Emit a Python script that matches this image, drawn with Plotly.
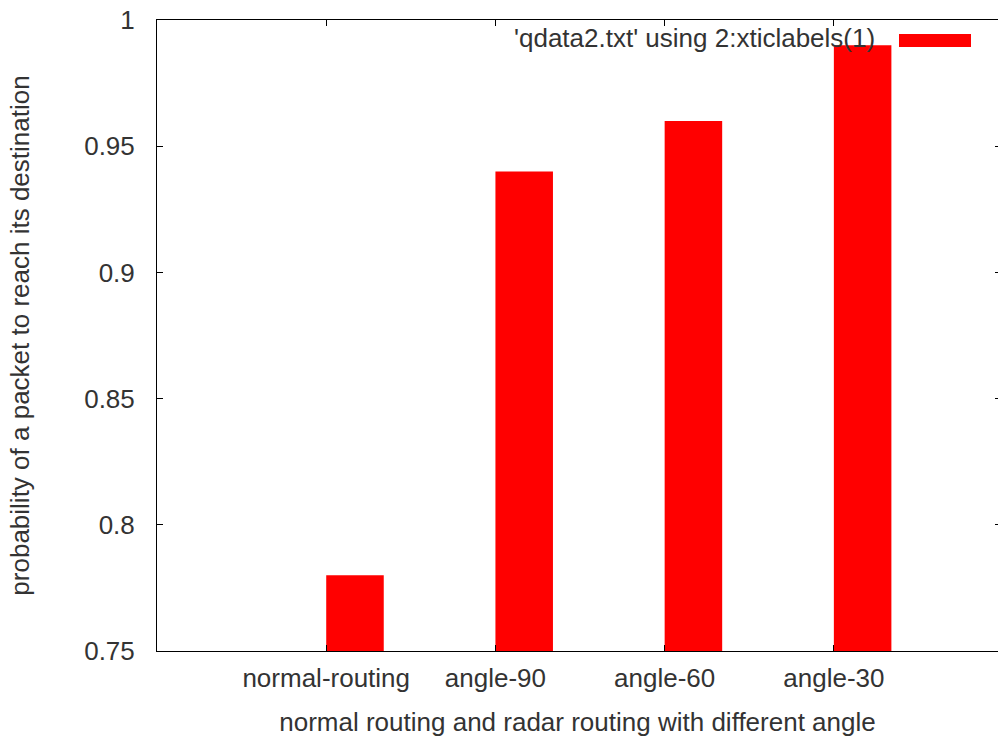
import plotly.graph_objects as go

categories = ["normal-routing", "angle-90", "angle-60", "angle-30"]
values = [0.78, 0.94, 0.96, 0.99]
y_ticks = [0.75, 0.8, 0.85, 0.9, 0.95, 1.0]
y_tick_labels = ["0.75", "0.8", "0.85", "0.9", "0.95", "1"]
legend_label = "'qdata2.txt' using 2:xticlabels(1)"
x_title = "normal routing and radar routing with different angle"
y_title = "probability of a packet to reach its destination"

FONT = "Liberation Sans, Arial, sans-serif"
TXT = "#333333"
FS = 26

W, H = 998, 740
ML, MT, MB = 157, 20, 89
PW = W - ML
PH = H - MT - MB

def px_x(x):
    return (x - ML) / PW

def px_y(y):
    return 1 - (y - MT) / PH

fig = go.Figure()
fig.add_trace(go.Bar(
    x=categories, y=values, base=0,
    marker=dict(color="#ff0000", line=dict(width=0)),
    width=0.34, offset=0.0, showlegend=False,
))
fig.add_trace(go.Scatter(x=[categories[0]], y=[values[0]], yaxis="y2",
                         mode="markers", marker=dict(opacity=0), showlegend=False,
                         hoverinfo="skip"))

fig.update_layout(
    width=W, height=H,
    margin=dict(l=ML, r=0, t=MT, b=MB, autoexpand=False),
    paper_bgcolor="white", plot_bgcolor="white",
    font=dict(family=FONT, size=FS, color=TXT),
    xaxis=dict(
        type="category", categoryorder="array", categoryarray=categories,
        range=[-1, 3.97], automargin=False,
        showline=True, linecolor="#000000", linewidth=1, mirror="ticks",
        ticks="inside", ticklen=6, tickcolor="#000000",
        showgrid=False, zeroline=False,
        tickfont=dict(family=FONT, size=FS, color=TXT),
        ticklabelstandoff=4,
        title=dict(text=x_title, font=dict(family=FONT, size=FS, color=TXT), standoff=20),
    ),
    yaxis=dict(
        range=[0.75, 1.0], automargin=False,
        tickvals=y_ticks, ticktext=y_tick_labels,
        showline=True, linecolor="#000000", linewidth=1, mirror=False,
        ticks="inside", ticklen=6, tickcolor="#000000",
        showgrid=False, zeroline=False,
        ticklabeloverflow="allow",
        tickfont=dict(family=FONT, size=FS, color=TXT),
        ticklabelstandoff=16,
        title=dict(text=y_title, font=dict(family=FONT, size=FS, color=TXT), standoff=47),
    ),
    yaxis2=dict(
        overlaying="y", side="right", range=[0.75, 1.0], automargin=False,
        tickvals=y_ticks, showticklabels=False,
        showline=False, ticks="inside", ticklen=3, tickcolor="#000000",
        showgrid=False, zeroline=False,
    ),
    annotations=[dict(
        text=legend_label, xref="paper", yref="paper",
        x=px_x(877), y=px_y(38),
        xanchor="right", yanchor="middle", showarrow=False,
        font=dict(family=FONT, size=FS, color=TXT),
    )],
    shapes=[dict(
        type="rect", xref="paper", yref="paper",
        x0=px_x(899), x1=px_x(971),
        y0=px_y(47), y1=px_y(34),
        fillcolor="#ff0000", line=dict(width=0),
    )],
)

fig.write_html("out.html", config={"displayModeBar": False},
               post_script="document.body.style.margin='0';")
